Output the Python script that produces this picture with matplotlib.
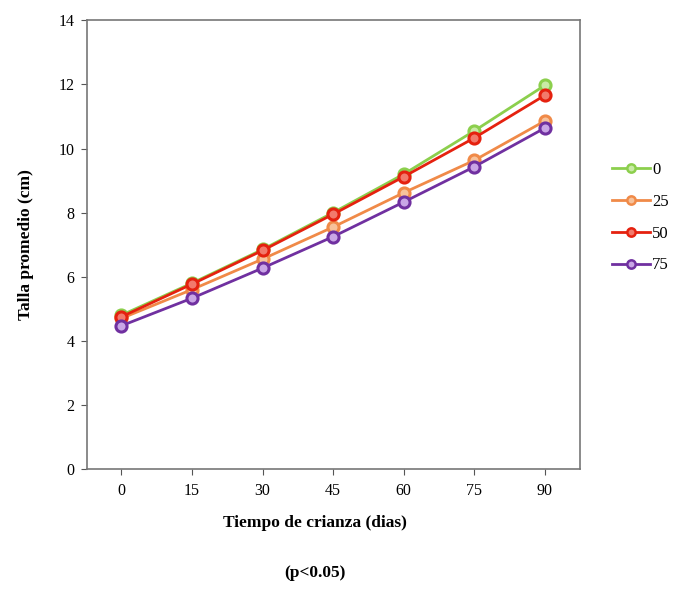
import matplotlib
matplotlib.use("Agg")
import matplotlib.pyplot as plt
from matplotlib.lines import Line2D

days = [0, 15, 30, 45, 60, 75, 90]
series_labels = ["0", "25", "50", "75"]
vals_0 = [4.80, 5.80, 6.85, 8.00, 9.20, 10.55, 11.97]
vals_25 = [4.70, 5.60, 6.55, 7.55, 8.62, 9.63, 10.86]
vals_50 = [4.75, 5.77, 6.82, 7.95, 9.12, 10.33, 11.66]
vals_75 = [4.47, 5.33, 6.27, 7.25, 8.33, 9.43, 10.64]
y_ticks = [0, 2, 4, 6, 8, 10, 12, 14]

colors = ["#8ccf4d", "#f08a48", "#e5210f", "#7030a0"]
faces = ["#c9eaa6", "#f7c29b", "#f27a6c", "#c9a6e6"]

plt.rcParams['font.family'] = ['Liberation Serif', 'DejaVu Serif']

fig = plt.figure(figsize=(6.82, 6.14), dpi=100)
ax = fig.add_axes([0.1276, 0.236, 0.7224, 0.731])

all_vals = [vals_0, vals_25, vals_50, vals_75]
handles = []
for i, (v, lab) in enumerate(zip(all_vals, series_labels)):
    ax.plot(days, v, color=colors[i], lw=2.0, marker='o', markersize=8,
            markerfacecolor=faces[i], markeredgecolor=colors[i],
            markeredgewidth=2.2, zorder=3 + i)
    handles.append(Line2D([0], [0], color=colors[i], lw=2.0, marker='o',
                          markersize=6, markerfacecolor=faces[i],
                          markeredgecolor=colors[i], markeredgewidth=1.8,
                          label=lab))

ax.set_xlim(-7.3, 97.4)
ax.set_ylim(0, 14)
ax.set_xticks(days)
ax.set_yticks(y_ticks)
ax.tick_params(axis='both', direction='out', length=4, labelsize=11.5, color='#555555')
ax.tick_params(axis='x', pad=6)
ax.tick_params(axis='y', pad=5)
for s in ax.spines.values():
    s.set_color('#777777')
    s.set_linewidth(1.2)

ax.set_ylabel("Talla promedio (cm)", fontsize=12.5, fontweight='bold', labelpad=18)
fig.text(0.462, 0.148, "Tiempo de crianza (dias)", ha='center', va='center',
         fontsize=12.5, fontweight='bold')
fig.text(0.462, 0.067, "(p<0.05)", ha='center', va='center',
         fontsize=12.5, fontweight='bold')

leg = fig.legend(handles=handles, loc='upper left', bbox_to_anchor=(0.885, 0.75),
                 frameon=False, fontsize=12, handlelength=2.3, handletextpad=0.1,
                 labelspacing=0.95, borderpad=0)

fig.savefig("out.png", dpi=100, facecolor='white')
